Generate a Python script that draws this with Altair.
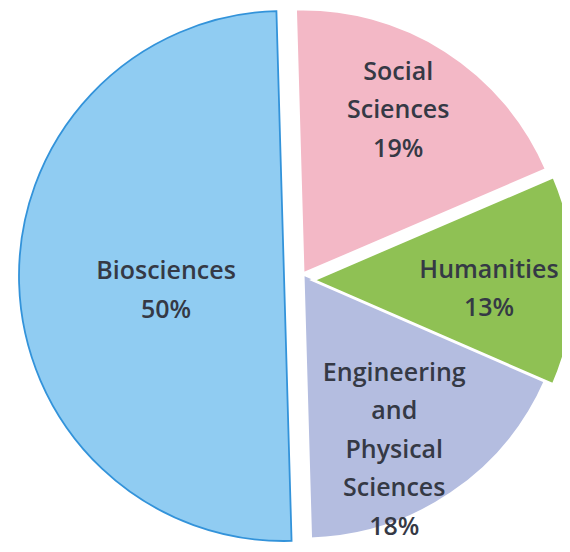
import math
import altair as alt
import pandas as pd

categories = ["Social Sciences", "Humanities", "Engineering and Physical Sciences", "Biosciences"]
shares = [19, 13, 18, 50]
labels = [
    "Social\nSciences\n19%",
    "Humanities\n13%",
    "Engineering\nand\nPhysical\nSciences\n18%",
    "Biosciences\n50%",
]
colors = ["#f3b8c6", "#8fc154", "#b4bde0", "#90ccf2"]
slice_order = [0, 1, 2, 3]

df = pd.DataFrame({"category": categories, "share": shares, "label": labels, "ord": slice_order})

rot = -0.0286
theta = alt.Theta("share:Q", stack=True, scale=alt.Scale(range=[rot, 2 * math.pi + rot]))
order = alt.Order("ord:Q")
color = alt.Color("category:N", scale=alt.Scale(domain=categories, range=colors), legend=None)

base = alt.Chart(df)


def only(cats):
    cond = alt.FieldOneOfPredicate(field="category", oneOf=cats)
    return alt.condition(cond, alt.value(1), alt.value(0))


# centres (plot-area pixels) of the exploded pieces
bio_c = (276, 268)
rest_c = (295, 266)
hum_c = (305, 272)

bio_arc = base.mark_arc(radius=265, stroke="#3393da", strokeWidth=1.8).encode(
    theta=theta, order=order, color=color,
    x=alt.value(bio_c[0]), y=alt.value(bio_c[1]),
    opacity=only(["Biosciences"]),
)

rest_arc = base.mark_arc(radius=265, stroke="white", strokeWidth=3).encode(
    theta=theta, order=order, color=color,
    x=alt.value(rest_c[0]), y=alt.value(rest_c[1]),
    opacity=only(["Social Sciences", "Engineering and Physical Sciences"]),
)

hum_arc = base.mark_arc(radius=262, stroke="white", strokeWidth=3).encode(
    theta=theta, order=order, color=color,
    x=alt.value(hum_c[0]), y=alt.value(hum_c[1]),
    opacity=only(["Humanities"]),
)

text_style = dict(fontSize=25, lineBreak="\n", lineHeight=38.5, font="Open Sans",
                  fontWeight=600, color="#353945", align="center", baseline="middle")


def label_layer(cat, centre, radius, dx, dy):
    return base.mark_text(radius=radius, dx=dx, dy=dy, **text_style).encode(
        theta=theta, order=order, text="label:N",
        x=alt.value(centre[0]), y=alt.value(centre[1]),
        opacity=only([cat]),
    )


t_bio = label_layer("Biosciences", bio_c, 118, 0, -8)
t_soc = label_layer("Social Sciences", rest_c, 188, -6, -44)
t_hum = label_layer("Humanities", rest_c, 188, -2, -5)
t_eng = label_layer("Engineering and Physical Sciences", rest_c, 188, -14, -57)

chart = alt.layer(bio_arc, rest_arc, hum_arc, t_bio, t_soc, t_hum, t_eng).properties(
    width=554, height=536, padding=0,
    autosize=alt.AutoSizeParams(type="none"),
    background="white",
).configure_view(strokeWidth=0)

chart.save("out.html", embed_options={"renderer": "svg", "actions": False})
